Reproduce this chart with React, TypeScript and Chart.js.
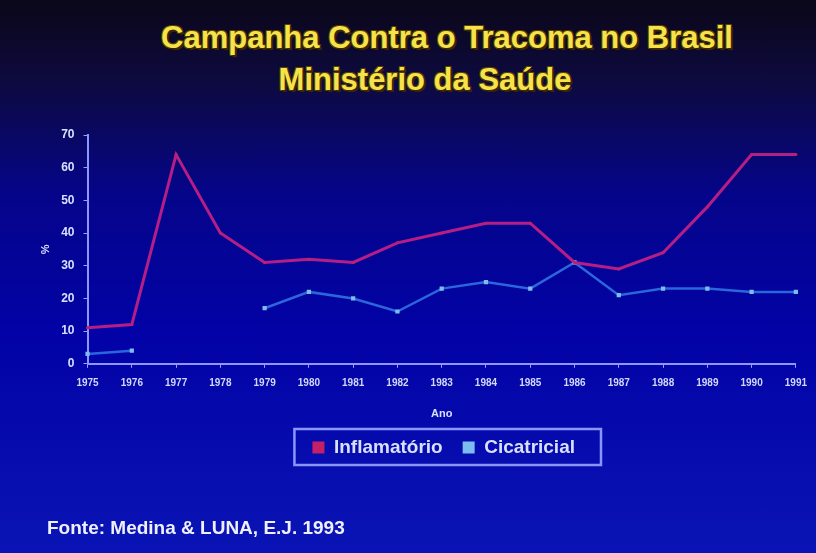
import React, { useEffect, useRef } from "react";
import { Chart, registerables } from "chart.js";

Chart.register(...registerables);

const years = ["1975","1976","1977","1978","1979","1980","1981","1982","1983","1984","1985","1986","1987","1988","1989","1990","1991"];
const inflamatorio = [11, 12, 64, 40, 31, 32, 31, 37, 40, 43, 43, 31, 29, 34, 48, 64, 64];
const cicatricial = [3, 4, null, null, 17, 22, 20, 16, 23, 25, 23, 31, 21, 23, 23, 22, 22];
const yTicks = [0, 10, 20, 30, 40, 50, 60, 70];

const legendShift = {
  id: "legendShift",
  afterLayout(chart: any) {
    const l = chart.legend;
    if (!l) return;
    const ca = chart.chartArea;
    const target = (ca.left + ca.right) / 2 + 2;
    const cur = (l.left + l.right) / 2;
    const d = target - cur;
    l.left += d;
    l.right += d;
    l.top -= 3;
    l.bottom -= 3;
  },
};

const legendBox = {
  id: "legendBox",
  afterDraw(chart: any) {
    const l = chart.legend;
    if (!l || !l.legendHitBoxes || !l.legendHitBoxes.length) return;
    const hb = l.legendHitBoxes;
    let left = Infinity, right = -Infinity, top = Infinity, bottom = -Infinity;
    hb.forEach((b: any) => {
      left = Math.min(left, b.left);
      right = Math.max(right, b.left + b.width);
      top = Math.min(top, b.top);
      bottom = Math.max(bottom, b.top + b.height);
    });
    const ctx = chart.ctx;
    ctx.save();
    ctx.strokeStyle = "#8a96ff";
    ctx.lineWidth = 2.5;
    ctx.strokeRect(left - 18, top - 9, right - left + 44, bottom - top + 17);
    ctx.restore();
  },
};

export default function App() {
  const ref = useRef<HTMLCanvasElement>(null);
  useEffect(() => {
    if (!ref.current) return;
    const chart = new Chart(ref.current, {
      type: "line",
      data: {
        labels: years,
        datasets: [
          {
            label: "Inflamatório",
            data: inflamatorio,
            borderColor: "#b41e86",
            backgroundColor: "#8e1aa6",
            borderWidth: 3,
            pointRadius: 1.5,
            pointBackgroundColor: "#c42068",
            pointBorderWidth: 0,
            tension: 0,
          },
          {
            label: "Cicatricial",
            data: cicatricial,
            borderColor: "#2c66dc",
            backgroundColor: "#3a86ea",
            borderWidth: 2.5,
            pointStyle: "rect",
            pointRadius: 3,
            pointBackgroundColor: "#7cbcee",
            pointBorderWidth: 0,
            spanGaps: false,
            tension: 0,
          },
        ],
      },
      options: {
        animation: false,
        responsive: false,
        maintainAspectRatio: false,
        layout: { padding: { top: 135, bottom: 83, left: 23, right: 11 } },
        plugins: {
          legend: {
            position: "bottom",
            labels: {
              color: "#d8e0ff",
              font: { family: "Liberation Sans", size: 19, weight: "bold" },
              usePointStyle: true,
              pointStyle: "rect",
              boxWidth: 12,
              boxHeight: 12,
              padding: 20,
            },
          },
          tooltip: { enabled: false },
        },
        scales: {
          x: {
            offset: false,
            grid: { display: true, drawOnChartArea: false, drawTicks: true, tickLength: 4, color: "#9aa0ff" },
            border: { color: "#8e96ff", width: 2 },
            ticks: { color: "#d0d8ff", font: { family: "Liberation Sans", size: 10, weight: "bold" }, maxRotation: 0, autoSkip: false, padding: 9 },
            title: { display: true, text: "Ano", color: "#d8e0ff", font: { family: "Liberation Sans", size: 11, weight: "bold" }, padding: { top: 10, bottom: 0 } },
          },
          y: {
            min: 0,
            max: 70,
            afterBuildTicks(axis: any) {
              axis.ticks = yTicks.map((v) => ({ value: v }));
            },
            grid: { display: true, drawOnChartArea: false, drawTicks: true, tickLength: 4, color: "#9aa0ff" },
            border: { color: "#8e96ff", width: 2 },
            ticks: { color: "#d8e0ff", font: { family: "Liberation Sans", size: 12, weight: "bold" }, padding: 9 },
            title: { display: true, text: "%", color: "#d8e0ff", font: { family: "Liberation Sans", size: 11, weight: "bold" }, padding: { top: 16, bottom: 0 } },
          },
        },
      },
      plugins: [legendShift, legendBox],
    });
    return () => chart.destroy();
  }, []);

  const titleStyle: React.CSSProperties = {
    position: "absolute",
    left: 0,
    width: 894,
    textAlign: "center",
    color: "#f6e24a",
    fontFamily: "Liberation Sans, Arial, sans-serif",
    fontWeight: "bold",
    fontSize: 31,
    whiteSpace: "nowrap",
    textShadow: "2px 2px 0 #3b2600, -1px -1px 0 #5a4200, 1px -1px 0 #5a4200, -1px 1px 0 #5a4200",
  };

  return (
    <div
      style={{
        position: "fixed",
        left: 0,
        top: 0,
        width: 816,
        height: 553,
        overflow: "hidden",
        background: "linear-gradient(to bottom, #0b0718 0%, #0d0a40 15%, #05058a 35%, #0202a6 60%, #0a14b4 100%)",
      }}
    >
      <div style={{ ...titleStyle, top: 20 }}>Campanha Contra o Tracoma no Brasil</div>
      <div style={{ ...titleStyle, top: 62, width: 850 }}>Ministério da Saúde</div>
      <canvas ref={ref} width={816} height={553} style={{ position: "absolute", left: 0, top: 0 }} />
      <div
        style={{
          position: "absolute",
          left: 47,
          top: 517,
          color: "#eef0ff",
          fontFamily: "Liberation Sans, Arial, sans-serif",
          fontWeight: "bold",
          fontSize: 19,
          whiteSpace: "nowrap",
        }}
      >
        Fonte: Medina &amp; LUNA, E.J. 1993
      </div>
    </div>
  );
}
